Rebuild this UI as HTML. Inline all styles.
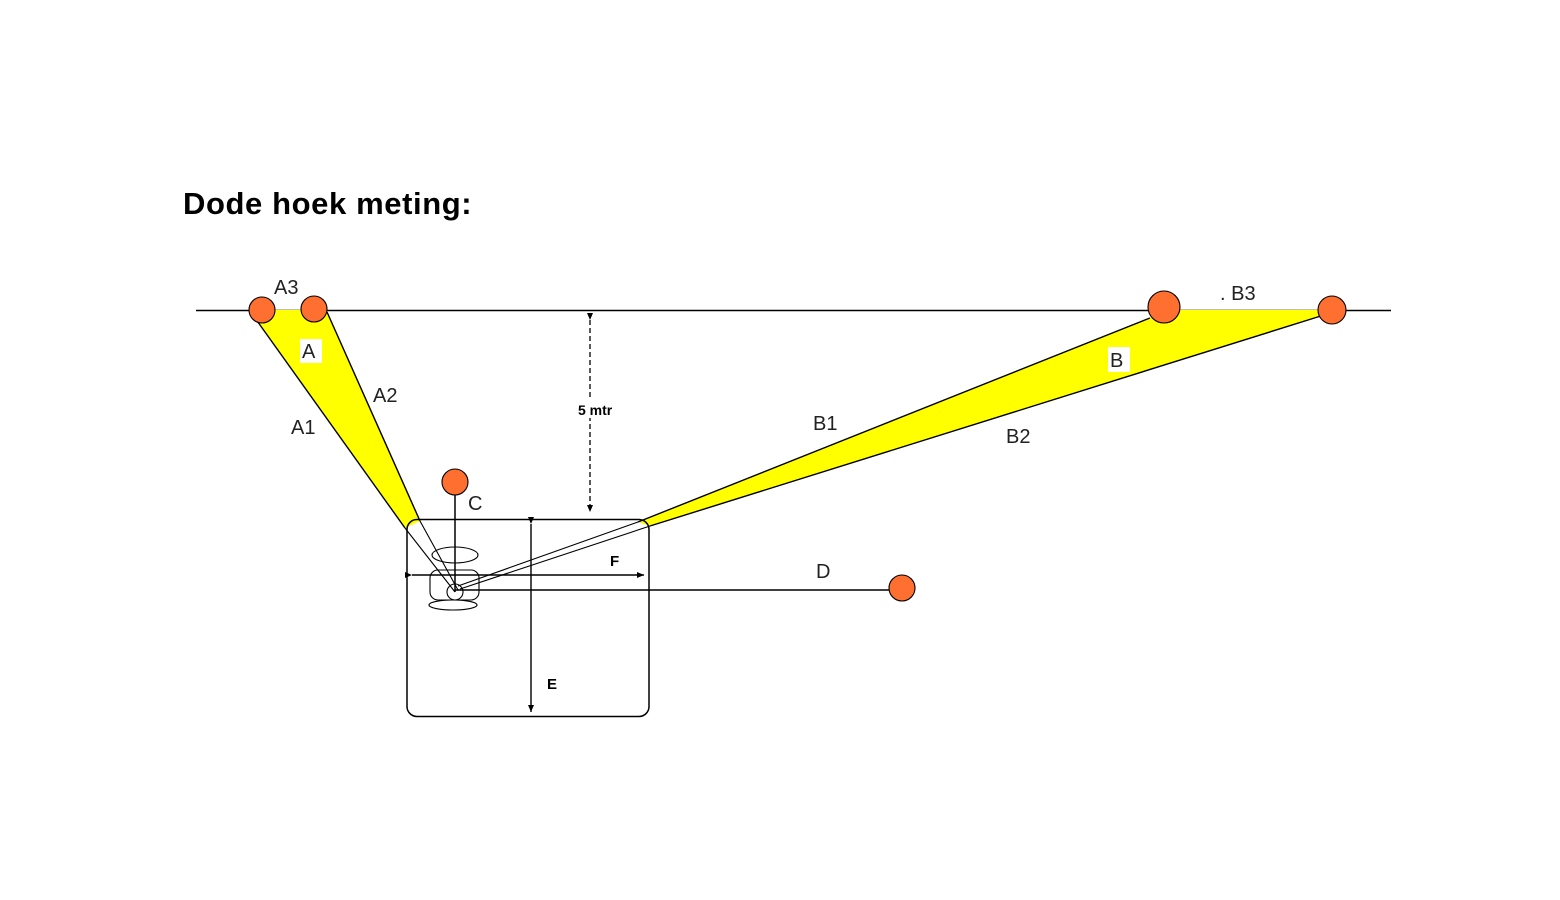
<!DOCTYPE html>
<html><head><meta charset="utf-8"><style>
html,body{margin:0;padding:0;background:#fff;}
svg{display:block;}
text{font-family:"Liberation Sans",Arial,sans-serif;}
</style></head><body>
<svg width="1560" height="900" viewBox="0 0 1560 900" xmlns="http://www.w3.org/2000/svg">
<defs>
<marker id="ar" markerWidth="8" markerHeight="8" refX="7" refY="4" orient="auto" markerUnits="userSpaceOnUse"><path d="M0,1 L7,4 L0,7 z" fill="#000"/></marker>
</defs>
<text x="183" y="214" font-size="31" font-weight="bold" fill="#000" letter-spacing="0.6">Dode hoek meting:</text>
<line x1="196" y1="310.5" x2="1391" y2="310.5" stroke="#000" stroke-width="1.5"/>
<polygon points="255,318 262,310 322,310 327,312 420,521 405,528" fill="#ffff00"/>
<line x1="255" y1="318" x2="405" y2="528" stroke="#000" stroke-width="1.4"/>
<line x1="327" y1="312" x2="420" y2="521" stroke="#000" stroke-width="1.4"/>
<line x1="405" y1="528" x2="455" y2="592" stroke="#000" stroke-width="1.1"/>
<line x1="420" y1="521" x2="458" y2="590" stroke="#000" stroke-width="1.1"/>
<polygon points="1150,318 1156,310 1322,310 1324,315 650,526 638,522" fill="#ffff00"/>
<line x1="1150" y1="318" x2="638" y2="522" stroke="#000" stroke-width="1.4"/>
<line x1="1324" y1="315" x2="650" y2="526" stroke="#000" stroke-width="1.4"/>
<line x1="638" y1="522" x2="458" y2="586" stroke="#000" stroke-width="1.1"/>
<line x1="650" y1="526" x2="460" y2="589" stroke="#000" stroke-width="1.1"/>
<rect x="407" y="519.5" width="242" height="197" rx="10" fill="none" stroke="#000" stroke-width="1.5"/>
<line x1="590" y1="320" x2="590" y2="512" stroke="#000" stroke-width="1.3" stroke-dasharray="5,3" marker-start="url(#ar)" marker-end="url(#ar)"/>
<rect x="576" y="400" width="48" height="18" fill="#fff"/>
<text x="578" y="415" font-size="14" font-weight="bold">5 mtr</text>
<line x1="412" y1="575" x2="644" y2="575" stroke="#000" stroke-width="1.4" marker-start="url(#ar)" marker-end="url(#ar)"/>
<text x="610" y="566" font-size="15" font-weight="bold">F</text>
<line x1="531" y1="524" x2="531" y2="712" stroke="#000" stroke-width="1.4" marker-start="url(#ar)" marker-end="url(#ar)"/>
<text x="547" y="689" font-size="15" font-weight="bold">E</text>
<ellipse cx="455" cy="555" rx="23" ry="8" fill="none" stroke="#000" stroke-width="1.1"/>
<rect x="430" y="570" width="49" height="30" rx="8" fill="none" stroke="#000" stroke-width="1.1"/>
<ellipse cx="453" cy="605" rx="24" ry="5" fill="none" stroke="#000" stroke-width="1.1"/>
<circle cx="455" cy="592" r="8" fill="none" stroke="#000" stroke-width="1.1"/>
<line x1="455" y1="495" x2="455" y2="592" stroke="#000" stroke-width="1.5"/>
<line x1="455" y1="590" x2="890" y2="590" stroke="#000" stroke-width="1.5"/>
<g fill="#ff6f2f" stroke="#000" stroke-width="1.1">
<circle cx="262" cy="310" r="13"/>
<circle cx="314" cy="309" r="13"/>
<circle cx="1164" cy="307" r="16"/>
<circle cx="1332" cy="310" r="14"/>
<circle cx="455" cy="482" r="13"/>
<circle cx="902" cy="588" r="13"/>
</g>
<g font-size="20" fill="#222">
<text x="274" y="294">A3</text>
<rect x="300" y="339" width="22" height="24" fill="#fff"/>
<text x="302" y="358">A</text>
<text x="373" y="402">A2</text>
<text x="291" y="434">A1</text>
<text x="468" y="510">C</text>
<text x="1220" y="300">. B3</text>
<rect x="1108" y="347" width="22" height="25" fill="#fff"/>
<text x="1110" y="367">B</text>
<text x="813" y="430">B1</text>
<text x="1006" y="443">B2</text>
<text x="816" y="578">D</text>
</g>
</svg>
</body></html>
